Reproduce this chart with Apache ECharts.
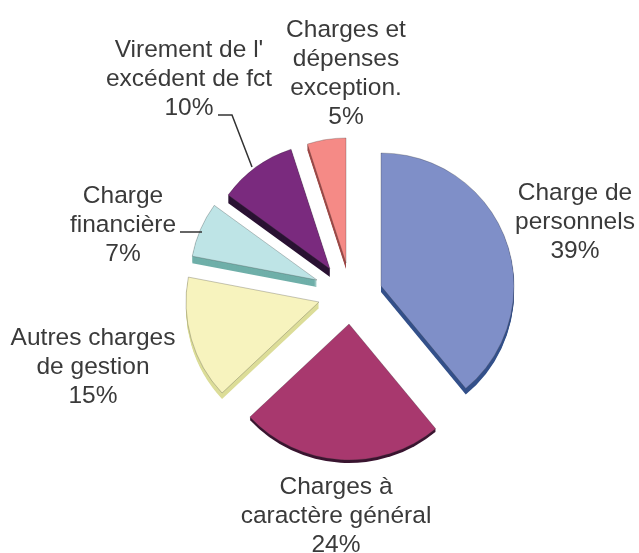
<!DOCTYPE html>
<html>
<head>
<meta charset="utf-8">
<style>
  html, body { margin: 0; padding: 0; background: #fff; }
  #chart { width: 639px; height: 553px; }
</style>
<script src="https://cdn.jsdelivr.net/npm/echarts@6/dist/echarts.min.js"></script>
</head>
<body>
<div id="chart"></div>
<script>
const categories = [
  'Charge de\npersonnels',
  'Charges à\ncaractère général',
  'Autres charges\nde gestion',
  'Charge\nfinancière',
  "Virement de l'\nexcédent de fct",
  'Charges et\ndépenses\nexception.'
]
const values = [39, 24, 15, 7, 10, 5]

const topColors = ['#7f8fc8', '#a8386e', '#f7f3be', '#bee4e6', '#7a2a7e', '#f58a86']
const sideColors = ['#33508a', '#3a1530', '#dcdd98', '#6fafa9', '#2a1233', '#a04a48']

// every slice is pulled out by hand, so each one gets its own tip, radius and depth
const tips = [[381, 286], [349, 324], [319, 302], [317, 280], [330, 269], [346, 263]]
const radii = [133, 136, 133, 127, 126, 125]
const depths = [6, 3, 6, 7, 8, 6]
const labelSpots = [[575, 222], [336, 516], [93, 367], [123, 225], [189, 79], [346, 74]]
const leaders = [
  [[218, 115], [232, 115], [252, 167]],
  [[180, 232], [202, 232]]
]

const total = values.reduce((a, b) => a + b, 0)

function slicePie(i, dy, color, withBorder, startAngle) {
  return {
    type: 'pie',
    center: [tips[i][0], tips[i][1] + dy],
    radius: radii[i],
    startAngle: startAngle,
    silent: true,
    label: { show: false },
    labelLine: { show: false },
    data: [
      {
        value: values[i],
        name: categories[i],
        itemStyle: {
          color: color,
          borderColor: withBorder ? 'rgba(50,50,50,0.45)' : color,
          borderWidth: withBorder ? 0.6 : 0
        }
      },
      { value: total - values[i], itemStyle: { color: 'transparent', borderWidth: 0 } }
    ]
  }
}

const series = []
let done = 0
values.forEach((v, i) => {
  const startAngle = 90 - done / total * 360
  // side of the "3d" slice, same sector stacked a few px lower
  for (let k = depths[i]; k >= 1; k--) {
    series.push(slicePie(i, k, sideColors[i], false, startAngle))
  }
  series.push(slicePie(i, 0, topColors[i], true, startAngle))
  done += v
})

const labels = categories.map((name, i) => ({
  type: 'text',
  z: 10,
  x: labelSpots[i][0],
  y: labelSpots[i][1],
  style: {
    text: name + '\n' + Math.round(values[i] / total * 100) + '%',
    fontFamily: 'Liberation Sans',
    fontSize: 24.5,
    lineHeight: 29,
    fill: '#3a3a3a',
    align: 'center',
    verticalAlign: 'middle'
  }
}))

const lines = leaders.map(points => ({
  type: 'polyline',
  z: 10,
  shape: { points: points },
  style: { stroke: '#333', lineWidth: 1.5, fill: null }
}))

const chart = echarts.init(document.getElementById('chart'))
chart.setOption({
  animation: false,
  backgroundColor: '#fff',
  graphic: labels.concat(lines),
  series: series
})
</script>
</body>
</html>
